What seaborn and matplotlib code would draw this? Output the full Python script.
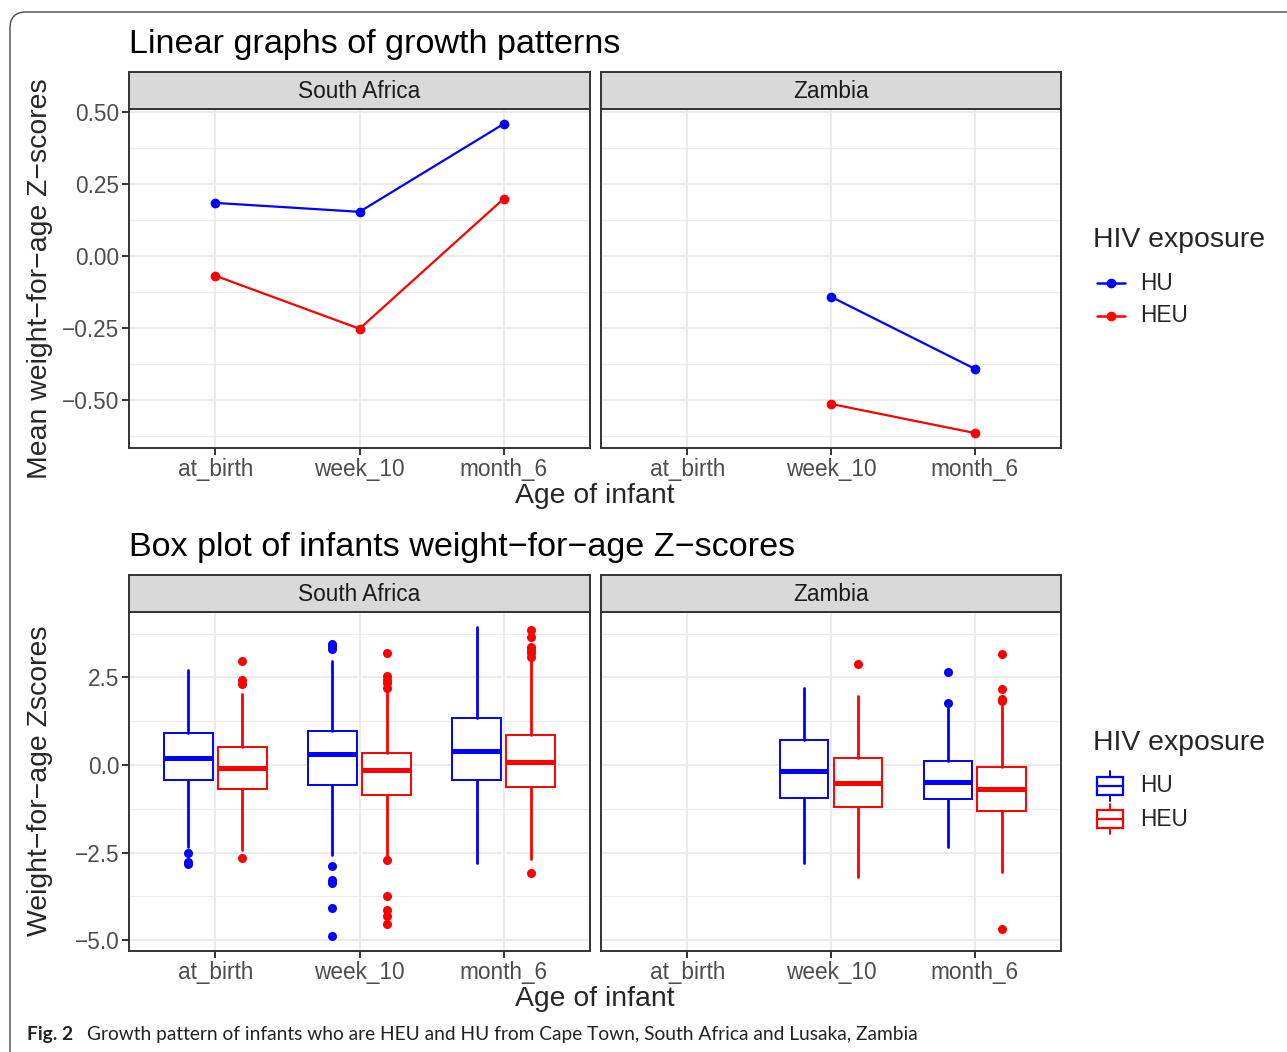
import numpy as np
import pandas as pd
import matplotlib
matplotlib.use("Agg")
import matplotlib.pyplot as plt
import seaborn as sns
from matplotlib.patches import FancyBboxPatch, Rectangle
from matplotlib.lines import Line2D

# ---------------- data ----------------
categories = ["at_birth", "week_10", "month_6"]
countries = ["South Africa", "Zambia"]
exposures = ["HU", "HEU"]
colors = {"HU": "#0000FF", "HEU": "#FF0000"}

# mean weight-for-age z-scores (line graphs)
sa_hu_mean = [0.184, 0.153, 0.458]
sa_heu_mean = [-0.069, -0.253, 0.198]
zm_times = ["week_10", "month_6"]
zm_hu_mean = [-0.142, -0.392]
zm_heu_mean = [-0.514, -0.615]

# box plot summaries: whisker low, q1, median, q3, whisker high, outliers
box_country = ["South Africa"] * 6 + ["Zambia"] * 4
box_time = ["at_birth", "at_birth", "week_10", "week_10", "month_6", "month_6",
            "week_10", "week_10", "month_6", "month_6"]
box_exposure = ["HU", "HEU"] * 5
box_whislo = [-2.35, -2.43, -2.57, -2.60, -2.79, -2.68, -2.79, -3.21, -2.35, -3.05]
box_q1 = [-0.43, -0.68, -0.56, -0.86, -0.43, -0.62, -0.93, -1.19, -0.98, -1.31]
box_med = [0.19, -0.095, 0.31, -0.14, 0.39, 0.076, -0.17, -0.51, -0.486, -0.67]
box_q3 = [0.905, 0.505, 0.97, 0.35, 1.34, 0.857, 0.714, 0.19, 0.114, -0.057]
box_whishi = [2.71, 2.03, 2.97, 2.12, 3.93, 3.00, 2.19, 1.97, 1.62, 1.75]
box_fliers = [
    [-2.50, -2.78, -2.83],
    [2.97, 2.43, 2.30, -2.66],
    [3.46, 3.40, 3.31, -2.88, -3.27, -3.38, -4.07, -4.88],
    [3.19, 2.54, 2.43, 2.34, 2.20, -2.71, -3.73, -4.14, -4.31, -4.55],
    [],
    [3.86, 3.65, 3.36, 3.29, 3.19, 3.08, -3.08],
    [],
    [2.88],
    [2.66, 1.77],
    [3.16, 2.16, 1.90, 1.83, -4.68],
]

# ---------------- layout helpers ----------------
W, H = 1287, 1052
DPI = 100

def rect(x0, y0, x1, y1):
    return [x0 / W, 1 - y1 / H, (x1 - x0) / W, (y1 - y0) / H]

sns.set_theme(style="white")
plt.rcParams["font.family"] = ["Liberation Sans", "DejaVu Sans"]
plt.rcParams["axes.unicode_minus"] = True

fig = plt.figure(figsize=(W / DPI, H / DPI), dpi=DPI)
fig.patch.set_facecolor("white")

GRID = "#EBEBEB"
BORDER = "#333333"
TICKC = "#4D4D4D"
TICK_FS = 16.3
BASE_FS = 20.4
TITLE_FS = 24.6

panel_x = [(129, 590), (601, 1061)]
top_y = (109, 448)
bot_y = (612, 951)
strip_h = 37

def style_panel(ax, ylim, majors, minors, ylabels, show_y):
    ax.set_xlim(-0.6, 2.6)
    ax.set_ylim(*ylim)
    ax.set_facecolor("white")
    ax.set_axisbelow(True)
    ax.set_xticks(range(3))
    ax.set_xticklabels(categories)
    ax.set_yticks(majors)
    ax.set_yticks(minors, minor=True)
    if show_y:
        ax.set_yticklabels(ylabels)
    else:
        ax.tick_params(axis="y", which="both", left=False, labelleft=False)
    ax.tick_params(axis="x", which="major", bottom=True, length=5, width=1.4,
                   color=BORDER, labelsize=TICK_FS, labelcolor=TICKC, pad=2)
    if show_y:
        ax.tick_params(axis="y", which="major", left=True, length=5, width=1.4,
                       color=BORDER, labelsize=TICK_FS, labelcolor=TICKC, pad=2)
    ax.tick_params(axis="y", which="minor", left=False)
    ax.grid(True, which="major", color=GRID, linewidth=1.5)
    ax.grid(True, which="minor", axis="y", color=GRID, linewidth=0.8)
    for s in ax.spines.values():
        s.set_color(BORDER)
        s.set_linewidth(1.4)
        s.set_visible(True)
    ax.set_xlabel("")
    ax.set_ylabel("")

def add_strip(x0, x1, ybottom, label):
    sax = fig.add_axes(rect(x0, ybottom - strip_h, x1, ybottom))
    sax.set_facecolor("#D9D9D9")
    sax.set_xticks([])
    sax.set_yticks([])
    for s in sax.spines.values():
        s.set_color(BORDER)
        s.set_linewidth(1.4)
    sax.text(0.5, 0.48, label, ha="center", va="center", fontsize=TICK_FS,
             color="#1A1A1A", transform=sax.transAxes)

# ---------------- top: line graphs ----------------
line_df = pd.DataFrame({
    "country": ["South Africa"] * 6 + ["Zambia"] * 4,
    "time": categories + categories + zm_times + zm_times,
    "exposure": ["HU"] * 3 + ["HEU"] * 3 + ["HU"] * 2 + ["HEU"] * 2,
    "mean": sa_hu_mean + sa_heu_mean + zm_hu_mean + zm_heu_mean,
})
line_df["x"] = line_df["time"].map({c: i for i, c in enumerate(categories)})

top_majors = [-0.5, -0.25, 0.0, 0.25, 0.5]
top_minors = [-0.625, -0.375, -0.125, 0.125, 0.375]
top_labels = [f"{v:.2f}".replace("-", "\u2212") for v in top_majors]

for i, country in enumerate(countries):
    x0, x1 = panel_x[i]
    ax = fig.add_axes(rect(x0, top_y[0], x1, top_y[1]))
    sub = line_df[line_df["country"] == country]
    sns.lineplot(data=sub, x="x", y="mean", hue="exposure", hue_order=exposures,
                 palette=colors, marker="o", markersize=7, markeredgewidth=0,
                 linewidth=1.6, legend=False, ax=ax, zorder=3)
    style_panel(ax, (-0.667, 0.51), top_majors, top_minors, top_labels, i == 0)
    add_strip(x0, x1, top_y[0], country)

# ---------------- bottom: box plots ----------------
bot_majors = [-5.0, -2.5, 0.0, 2.5]
bot_minors = [-3.75, -1.25, 1.25, 3.75]
bot_labels = [f"{v:.1f}".replace("-", "\u2212") for v in bot_majors]
offset = {"HU": -0.1875, "HEU": 0.1875}
bw = 0.3375

for i, country in enumerate(countries):
    x0, x1 = panel_x[i]
    ax = fig.add_axes(rect(x0, bot_y[0], x1, bot_y[1]))
    for k in range(len(box_country)):
        if box_country[k] != country:
            continue
        ex = box_exposure[k]
        c = colors[ex]
        pos = categories.index(box_time[k]) + offset[ex]
        stats = [{
            "whislo": box_whislo[k], "q1": box_q1[k], "med": box_med[k],
            "q3": box_q3[k], "whishi": box_whishi[k], "fliers": box_fliers[k],
        }]
        ax.bxp(stats, positions=[pos], widths=bw, showcaps=False, patch_artist=True,
               boxprops=dict(facecolor="white", edgecolor=c, linewidth=1.4),
               whiskerprops=dict(color=c, linewidth=2.0),
               medianprops=dict(color=c, linewidth=3.6, solid_capstyle="butt"),
               flierprops=dict(marker="o", markerfacecolor=c, markeredgecolor=c,
                               markersize=6.5, markeredgewidth=0),
               zorder=3, manage_ticks=False)
    style_panel(ax, (-5.31, 4.37), bot_majors, bot_minors, bot_labels, i == 0)
    add_strip(x0, x1, bot_y[0], country)

# ---------------- overlay: titles, labels, legends, caption, frame ----------------
ov = fig.add_axes([0, 0, 1, 1], zorder=10)
ov.set_xlim(0, W)
ov.set_ylim(H, 0)
ov.axis("off")
ov.patch.set_alpha(0)

frame = FancyBboxPatch((10, 12), 1400, 1100, boxstyle="round,pad=0,rounding_size=16",
                       fill=False, edgecolor="#4A4A4A", linewidth=1.0)
ov.add_patch(frame)

ov.text(129, 53, "Linear graphs of growth patterns", fontsize=TITLE_FS, ha="left",
        va="baseline", color="black")
ov.text(129, 556, "Box plot of infants weight\u2212for\u2212age Z\u2212scores", fontsize=TITLE_FS,
        ha="left", va="baseline", color="black")
ov.text(595, 503, "Age of infant", fontsize=BASE_FS, ha="center", va="baseline")
ov.text(595, 1006, "Age of infant", fontsize=BASE_FS, ha="center", va="baseline")
ov.text(40, 279, "Mean weight\u2212for\u2212age Z\u2212scores", fontsize=BASE_FS, rotation=90,
        ha="center", va="center")
ov.text(40, 781, "Weight\u2212for\u2212age Zscores", fontsize=BASE_FS, rotation=90,
        ha="center", va="center")

# legend (lines)
ov.text(1093, 240, "HIV exposure", fontsize=BASE_FS, ha="left", va="center")
for ex, yy in zip(exposures, [283, 316]):
    ov.add_line(Line2D([1097, 1125], [yy, yy], color=colors[ex], linewidth=1.8))
    ov.add_line(Line2D([1111], [yy], marker="o", markersize=7, markeredgewidth=0,
                       color=colors[ex]))
    ov.text(1140, yy, ex, fontsize=TICK_FS, ha="left", va="center")

# legend (boxes)
ov.text(1093, 743, "HIV exposure", fontsize=BASE_FS, ha="left", va="center")
for ex, yy in zip(exposures, [786, 819]):
    c = colors[ex]
    ov.add_line(Line2D([1110, 1110], [yy - 15, yy - 9], color=c, linewidth=1.4))
    ov.add_line(Line2D([1110, 1110], [yy + 9, yy + 15], color=c, linewidth=1.4))
    ov.add_patch(Rectangle((1097, yy - 9), 26, 18, fill=False, edgecolor=c, linewidth=1.6))
    ov.add_line(Line2D([1097, 1123], [yy, yy], color=c, linewidth=1.6))
    ov.text(1140, yy, ex, fontsize=TICK_FS, ha="left", va="center")

# caption
ov.text(27, 1040, "Fig. 2", fontsize=13.8, fontweight="bold", ha="left", va="baseline",
        family=["Lato", "DejaVu Sans"], color="#222222")
ov.text(87, 1040, "Growth pattern of infants who are HEU and HU from Cape Town, South Africa and Lusaka, Zambia",
        fontsize=13.8, ha="left", va="baseline", family=["Lato", "DejaVu Sans"], color="#222222")

fig.savefig("out.png", dpi=DPI, facecolor="white")
